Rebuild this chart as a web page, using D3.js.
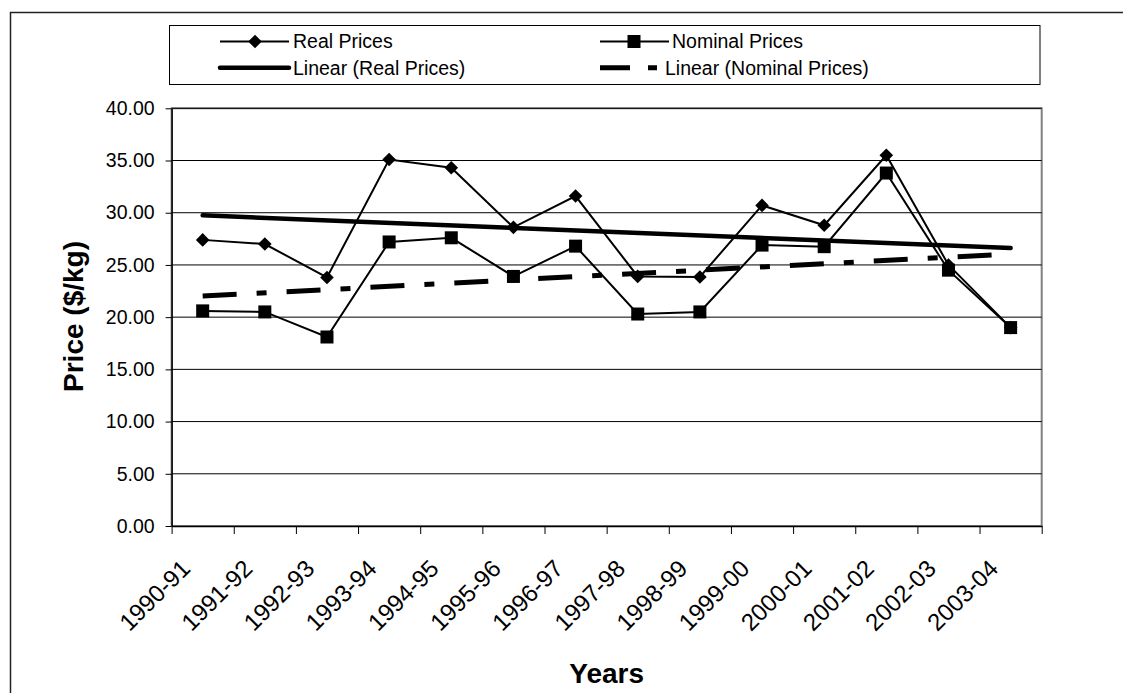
<!DOCTYPE html>
<html>
<head>
<meta charset="utf-8">
<script src="https://cdn.jsdelivr.net/npm/d3@7"></script>
<style>
  html, body { margin: 0; padding: 0; background: #fff; }
  svg { display: block; }
  text { font-family: "Liberation Sans", Arial, sans-serif; fill: #000; }
</style>
</head>
<body>
<svg id="chart" width="1128" height="693"></svg>
<script>
// Price series by financial year ($/kg)
const categories = ["1990-91", "1991-92", "1992-93", "1993-94", "1994-95", "1995-96", "1996-97",
                    "1997-98", "1998-99", "1999-00", "2000-01", "2001-02", "2002-03", "2003-04"];
const realPrices = [27.4, 27.0, 23.8, 35.1, 34.3, 28.6, 31.6, 23.9, 23.85, 30.7, 28.8, 35.5, 25.0, 19.0];
const nominalPrices = [20.6, 20.5, 18.1, 27.2, 27.6, 23.9, 26.8, 20.3, 20.5, 26.9, 26.75, 33.8, 24.5, 19.0];
const yTicks = [0, 5, 10, 15, 20, 25, 30, 35, 40];
const seriesNames = ["Real Prices", "Nominal Prices", "Linear (Real Prices)", "Linear (Nominal Prices)"];

const svg = d3.select("#chart");

const plot = { left: 171.6, right: 1041.7, top: 108.3, bottom: 526 };

const x = d3.scaleBand().domain(categories).range([plot.left, plot.right]).padding(0);
const cx = c => x(c) + x.bandwidth() / 2;
const y = d3.scaleLinear().domain([0, 40]).range([plot.bottom, plot.top]);
const xIdx = d3.scaleLinear().domain([0, categories.length]).range([plot.left, plot.right]);

// Outer chart border (left and top edges visible)
svg.append("path")
  .attr("d", `M10.5,693 V12.5 H1123`)
  .attr("fill", "none").attr("stroke", "#222").attr("stroke-width", 1.5);

// Plot area frame
svg.append("rect")
  .attr("x", plot.left).attr("y", plot.top)
  .attr("width", plot.right - plot.left).attr("height", plot.bottom - plot.top)
  .attr("fill", "none").attr("stroke", "#808080").attr("stroke-width", 2);

// Horizontal gridlines
svg.append("g").selectAll("line")
  .data(yTicks.filter(v => v > 0))
  .join("line")
  .attr("x1", plot.left).attr("x2", plot.right)
  .attr("y1", d => y(d)).attr("y2", d => y(d))
  .attr("stroke", "#000").attr("stroke-width", 1);

// Y axis
const yAxis = svg.append("g")
  .attr("transform", `translate(${plot.left},0)`)
  .call(d3.axisLeft(y).tickValues(yTicks).tickFormat(d3.format(".2f")).tickSize(6).tickSizeOuter(0).tickPadding(11));
yAxis.select(".domain").attr("stroke", "#000").attr("stroke-width", 1.5);
yAxis.selectAll(".tick line").attr("stroke", "#000");
yAxis.selectAll(".tick text")
  .style("font-family", "'Liberation Sans', Arial, sans-serif")
  .style("font-size", "19.5px").attr("fill", "#000");

// X axis ticks between categories
const xAxis = svg.append("g")
  .attr("transform", `translate(0,${plot.bottom})`)
  .call(d3.axisBottom(xIdx).tickValues(d3.range(categories.length + 1)).tickFormat("").tickSize(8).tickSizeOuter(0));
xAxis.select(".domain").attr("stroke", "#000").attr("stroke-width", 1.5);
xAxis.selectAll(".tick line").attr("stroke", "#000");

// Rotated category labels
svg.append("g").selectAll("text")
  .data(categories)
  .join("text")
  .attr("transform", d => `translate(${cx(d) - 11},570) rotate(-45)`)
  .attr("text-anchor", "end")
  .style("font-size", "24px")
  .text(d => d);

// Axis titles
svg.append("text")
  .attr("transform", `translate(83,316.5) rotate(-90)`)
  .attr("text-anchor", "middle")
  .style("font-size", "28px").style("font-weight", "bold")
  .text("Price ($/kg)");
svg.append("text")
  .attr("x", (plot.left + plot.right) / 2).attr("y", 683)
  .attr("text-anchor", "middle")
  .style("font-size", "28px").style("font-weight", "bold")
  .text("Years");

// Least-squares linear trend over category index
function linearFit(values) {
  const n = values.length;
  const xs = d3.range(1, n + 1);
  const mx = d3.mean(xs), my = d3.mean(values);
  const sxy = d3.sum(xs, (xi, i) => (xi - mx) * (values[i] - my));
  const sxx = d3.sum(xs, xi => (xi - mx) * (xi - mx));
  const b = sxy / sxx, a = my - b * mx;
  return xs.map(xi => a + b * xi);
}
const realTrend = linearFit(realPrices);
const nominalTrend = linearFit(nominalPrices);

const line = d3.line().x((d, i) => cx(categories[i])).y(d => y(d));
const trendLine = d3.line()
  .x((d, i) => cx(categories[i]))
  .y(d => y(d));
const ends = arr => [arr[0], arr[arr.length - 1]];

// Trend lines
svg.append("path")
  .datum(realTrend)
  .attr("d", d => {
    const p0 = [cx(categories[0]), y(d[0])];
    const p1 = [cx(categories[d.length - 1]), y(d[d.length - 1])];
    return `M${p0}L${p1}`;
  })
  .attr("fill", "none").attr("stroke", "#000").attr("stroke-width", 4.5).attr("stroke-linecap", "round");

svg.append("path")
  .datum(nominalTrend)
  .attr("d", d => {
    const p0 = [cx(categories[0]), y(d[0])];
    const p1 = [cx(categories[d.length - 1]), y(d[d.length - 1])];
    return `M${p0}L${p1}`;
  })
  .attr("fill", "none").attr("stroke", "#000").attr("stroke-width", 5)
  .attr("stroke-dasharray", "34,20,10,20");

// Data lines
svg.append("path").datum(realPrices).attr("d", line)
  .attr("fill", "none").attr("stroke", "#000").attr("stroke-width", 2);
svg.append("path").datum(nominalPrices).attr("d", line)
  .attr("fill", "none").attr("stroke", "#000").attr("stroke-width", 2);

// Markers
const diamond = (px, py, r) => `M${px},${py - r}L${px + r},${py}L${px},${py + r}L${px - r},${py}Z`;
svg.append("g").selectAll("path")
  .data(realPrices)
  .join("path")
  .attr("d", (d, i) => diamond(cx(categories[i]), y(d), 6.8))
  .attr("fill", "#000");
const sq = 13;
svg.append("g").selectAll("rect")
  .data(nominalPrices)
  .join("rect")
  .attr("x", (d, i) => cx(categories[i]) - sq / 2)
  .attr("y", d => y(d) - sq / 2)
  .attr("width", sq).attr("height", sq)
  .attr("fill", "#000");

// Legend
const legend = svg.append("g");
legend.append("rect")
  .attr("x", 169.5).attr("y", 25.5).attr("width", 870.5).attr("height", 59)
  .attr("fill", "#fff").attr("stroke", "#000").attr("stroke-width", 1);

const rowY = [41.5, 67.7];
const colX = [220, 600];
// Real Prices
legend.append("line").attr("x1", colX[0]).attr("x2", colX[0] + 69).attr("y1", rowY[0]).attr("y2", rowY[0])
  .attr("stroke", "#000").attr("stroke-width", 2);
legend.append("path").attr("d", diamond(colX[0] + 35, rowY[0], 6.8)).attr("fill", "#000");
// Nominal Prices
legend.append("line").attr("x1", colX[1]).attr("x2", colX[1] + 69).attr("y1", rowY[0]).attr("y2", rowY[0])
  .attr("stroke", "#000").attr("stroke-width", 2);
legend.append("rect").attr("x", colX[1] + 34 - sq / 2).attr("y", rowY[0] - sq / 2)
  .attr("width", sq).attr("height", sq).attr("fill", "#000");
// Linear (Real Prices)
legend.append("line").attr("x1", colX[0]).attr("x2", colX[0] + 69).attr("y1", rowY[1]).attr("y2", rowY[1])
  .attr("stroke", "#000").attr("stroke-width", 4.5).attr("stroke-linecap", "round");
// Linear (Nominal Prices)
legend.append("line").attr("x1", colX[1]).attr("x2", colX[1] + 58).attr("y1", rowY[1]).attr("y2", rowY[1])
  .attr("stroke", "#000").attr("stroke-width", 5).attr("stroke-dasharray", "30,18,9,20");

const legendText = [
  { name: seriesNames[0], x: colX[0] + 73, y: rowY[0] },
  { name: seriesNames[1], x: colX[1] + 72, y: rowY[0] },
  { name: seriesNames[2], x: colX[0] + 73, y: rowY[1] },
  { name: seriesNames[3], x: colX[1] + 65, y: rowY[1] }
];
legend.selectAll("text.lab")
  .data(legendText)
  .join("text")
  .attr("class", "lab")
  .attr("x", d => d.x).attr("y", d => d.y)
  .attr("dy", "0.35em")
  .style("font-size", "19.5px")
  .text(d => d.name);
</script>
</body>
</html>
